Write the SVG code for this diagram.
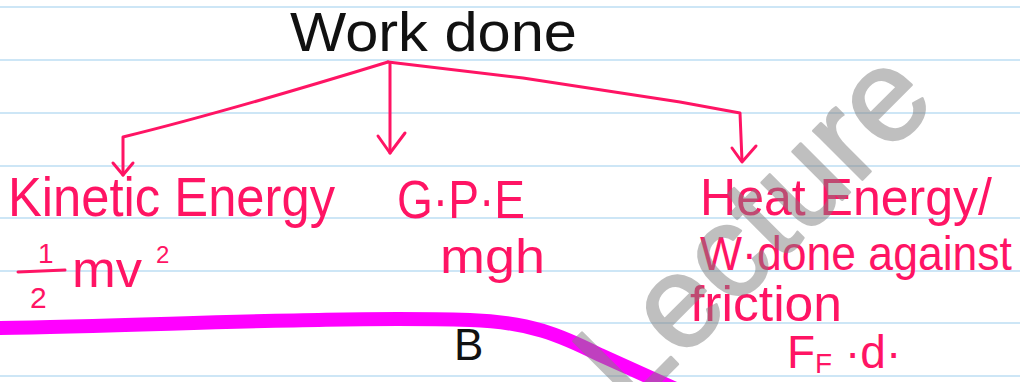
<svg xmlns="http://www.w3.org/2000/svg" width="1020" height="382" viewBox="0 0 1020 382">
  <style>
    .rule { stroke: #cde6f6; stroke-width: 2; }
    .ink { font-family: "Liberation Sans", Arial, sans-serif; fill: #ff1464; }
    .blk { font-family: "Liberation Sans", Arial, sans-serif; fill: #111111; }
    .con { fill: none; stroke: #ff1464; stroke-width: 3; stroke-linecap: round; stroke-linejoin: round; }
    .wm { font-family: "Liberation Sans", Arial, sans-serif; fill: #808080; stroke: #808080; stroke-width: 2.5; stroke-linejoin: round; }
  </style>
  <rect width="1020" height="382" fill="#ffffff"/>
  <g id="ruled-lines">
    <line class="rule" x1="0" y1="7" x2="1020" y2="7"/>
    <line class="rule" x1="0" y1="60" x2="1020" y2="60"/>
    <line class="rule" x1="0" y1="113" x2="1020" y2="113"/>
    <line class="rule" x1="0" y1="166" x2="1020" y2="166"/>
    <line class="rule" x1="0" y1="218" x2="1020" y2="218"/>
    <line class="rule" x1="0" y1="271" x2="1020" y2="271"/>
    <line class="rule" x1="0" y1="323" x2="1020" y2="323"/>
    <line class="rule" x1="0" y1="376" x2="1020" y2="376"/>
  </g>
  <path id="track" d="M -5 328 C 150 326, 330 316, 470 320 C 530 322, 560 335, 600 355 L 700 400" fill="none" stroke="#ff00ff" stroke-width="14" stroke-linecap="round"/>
  <g id="connectors">
    <path class="con" d="M 388 62 Q 225 112 123 137 L 123 175"/>
    <path class="con" d="M 113 163 L 123 175 L 133 163"/>
    <path class="con" d="M 390 64 L 390 153"/>
    <path class="con" d="M 378 136 L 390 153 L 405 133"/>
    <path class="con" d="M 388 62 L 523 78 L 680 102 L 740 113 L 742 161"/>
    <path class="con" d="M 732 148 L 742 162 L 756 146"/>
  </g>
  <g id="root">
    <text class="blk" x="290" y="51" font-size="56" textLength="287" lengthAdjust="spacingAndGlyphs">Work done</text>
  </g>
  <g id="node-kinetic">
    <text class="ink" x="8" y="216" font-size="56" textLength="327" lengthAdjust="spacingAndGlyphs">Kinetic Energy</text>
    <text class="ink" x="38" y="263" font-size="28">1</text>
    <line x1="18" y1="272" x2="65" y2="270" stroke="#ff1464" stroke-width="3" stroke-linecap="round"/>
    <text class="ink" x="30" y="308" font-size="30">2</text>
    <text class="ink" x="72" y="287" font-size="52" textLength="70" lengthAdjust="spacingAndGlyphs">mv</text>
    <text class="ink" x="156" y="263" font-size="24">2</text>
  </g>
  <g id="node-gpe">
    <text class="ink" x="397" y="218" font-size="54" textLength="128" lengthAdjust="spacingAndGlyphs">G·P·E</text>
    <text class="ink" x="440" y="273" font-size="48" textLength="105" lengthAdjust="spacingAndGlyphs">mgh</text>
  </g>
  <g id="node-heat">
    <text class="ink" x="700" y="215" font-size="52" textLength="292" lengthAdjust="spacingAndGlyphs">Heat Energy/</text>
    <text class="ink" x="700" y="270" font-size="48" textLength="312" lengthAdjust="spacingAndGlyphs">W·done against</text>
    <text class="ink" x="690" y="321" font-size="50" textLength="152" lengthAdjust="spacingAndGlyphs">friction</text>
    <text class="ink" x="787" y="368" font-size="46">F<tspan font-size="28" dy="5">F</tspan><tspan dy="-5"> ·d·</tspan></text>
  </g>
  <g id="label-b">
    <text class="blk" x="454" y="360" font-size="44">B</text>
  </g>
  <g id="watermark" opacity="0.5">
    <text class="wm" transform="translate(629.5 412.5) rotate(-45)" font-size="131">Lecture</text>
  </g>
</svg>
